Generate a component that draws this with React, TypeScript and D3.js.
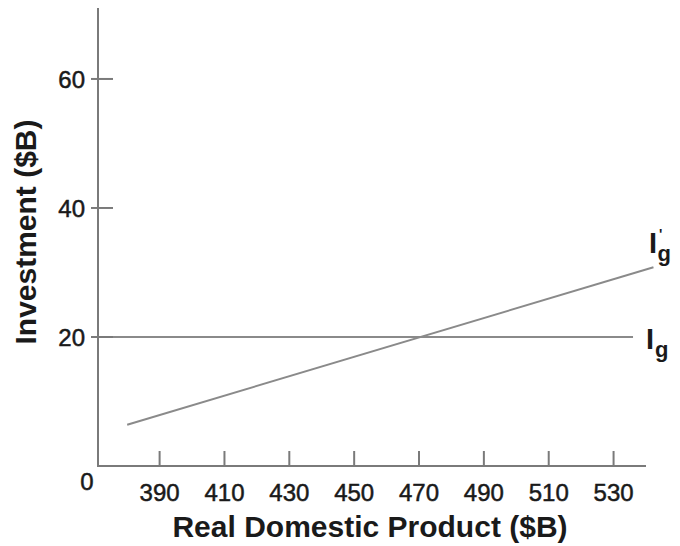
import React from "react";
import * as d3 from "d3";

const xTicks = [390, 410, 430, 450, 470, 490, 510, 530];
const yTicks = [20, 40, 60];
const xDomain = [371, 540];
const yDomain = [0, 71];
const igX = [371, 536];
const igY = [20, 20];
const igPrimeX = [380, 542.3];
const igPrimeY = [6.4, 30.8];
const xTitle = "Real Domestic Product ($B)";
const yTitle = "Investment ($B)";

const W = 680;
const H = 546;
const FONT = "'Liberation Sans', Arial, Helvetica, sans-serif";

export default function App() {
  const x = d3.scaleLinear().domain(xDomain).range([98, 646]);
  const y = d3.scaleLinear().domain(yDomain).range([466, 8]);
  const line = d3
    .line<[number, number]>()
    .x((d) => x(d[0]))
    .y((d) => y(d[1]));
  const ig: [number, number][] = igX.map((v, i) => [v, igY[i]]);
  const igp: [number, number][] = igPrimeX.map((v, i) => [v, igPrimeY[i]]);
  const axisColor = "#7a7a7a";
  const lineColor = "#8a8a8a";
  const textColor = "#1a1a1a";
  const tickText = { fontSize: 24, fill: textColor, stroke: textColor, strokeWidth: 0.5 };

  return (
    <svg
      width={W}
      height={H}
      style={{ position: "absolute", left: 0, top: 0, background: "#fff" }}
      fontFamily={FONT}
    >
      {/* data lines */}
      <path d={line(ig) || ""} fill="none" stroke={lineColor} strokeWidth={2} />
      <path d={line(igp) || ""} fill="none" stroke={lineColor} strokeWidth={2} />

      {/* axes */}
      <line x1={x(xDomain[0])} x2={x(xDomain[0])} y1={y(yDomain[1])} y2={y(0)} stroke={axisColor} strokeWidth={2} />
      <line x1={x(xDomain[0]) - 1} x2={x(xDomain[1])} y1={y(0)} y2={y(0)} stroke={axisColor} strokeWidth={2} />

      {xTicks.map((t) => (
        <g key={"x" + t}>
          <line x1={x(t)} x2={x(t)} y1={y(0)} y2={y(0) - 15} stroke={axisColor} strokeWidth={2} />
          <text x={x(t)} y={501} textAnchor="middle" {...tickText}>
            {t}
          </text>
        </g>
      ))}
      {yTicks.map((t) => (
        <g key={"y" + t}>
          <line x1={91} x2={113} y1={y(t)} y2={y(t)} stroke={axisColor} strokeWidth={2} />
          <text x={85} y={y(t) + 9} textAnchor="end" {...tickText}>
            {t}
          </text>
        </g>
      ))}
      <text x={87} y={490} textAnchor="middle" {...tickText}>
        0
      </text>

      {/* axis titles */}
      <text
        x={370}
        y={537}
        textAnchor="middle"
        fontSize={30}
        fontWeight="bold"
        fill={textColor}
      >
        {xTitle}
      </text>
      <text
        transform="translate(36,232) rotate(-90)"
        textAnchor="middle"
        fontSize={30}
        fontWeight="bold"
        fill={textColor}
      >
        {yTitle}
      </text>

      {/* line labels */}
      <text x={649} y={253} fontSize={29} fontWeight="bold" fill={textColor}>
        I
        <tspan fontSize={14} dy={-14} dx={2}>'</tspan>
        <tspan fontSize={22} dy={22} dx={-5}>g</tspan>
      </text>
      <text x={646} y={349} fontSize={29} fontWeight="bold" fill={textColor}>
        I
        <tspan fontSize={22} dy={8} dx={1}>g</tspan>
      </text>
    </svg>
  );
}
